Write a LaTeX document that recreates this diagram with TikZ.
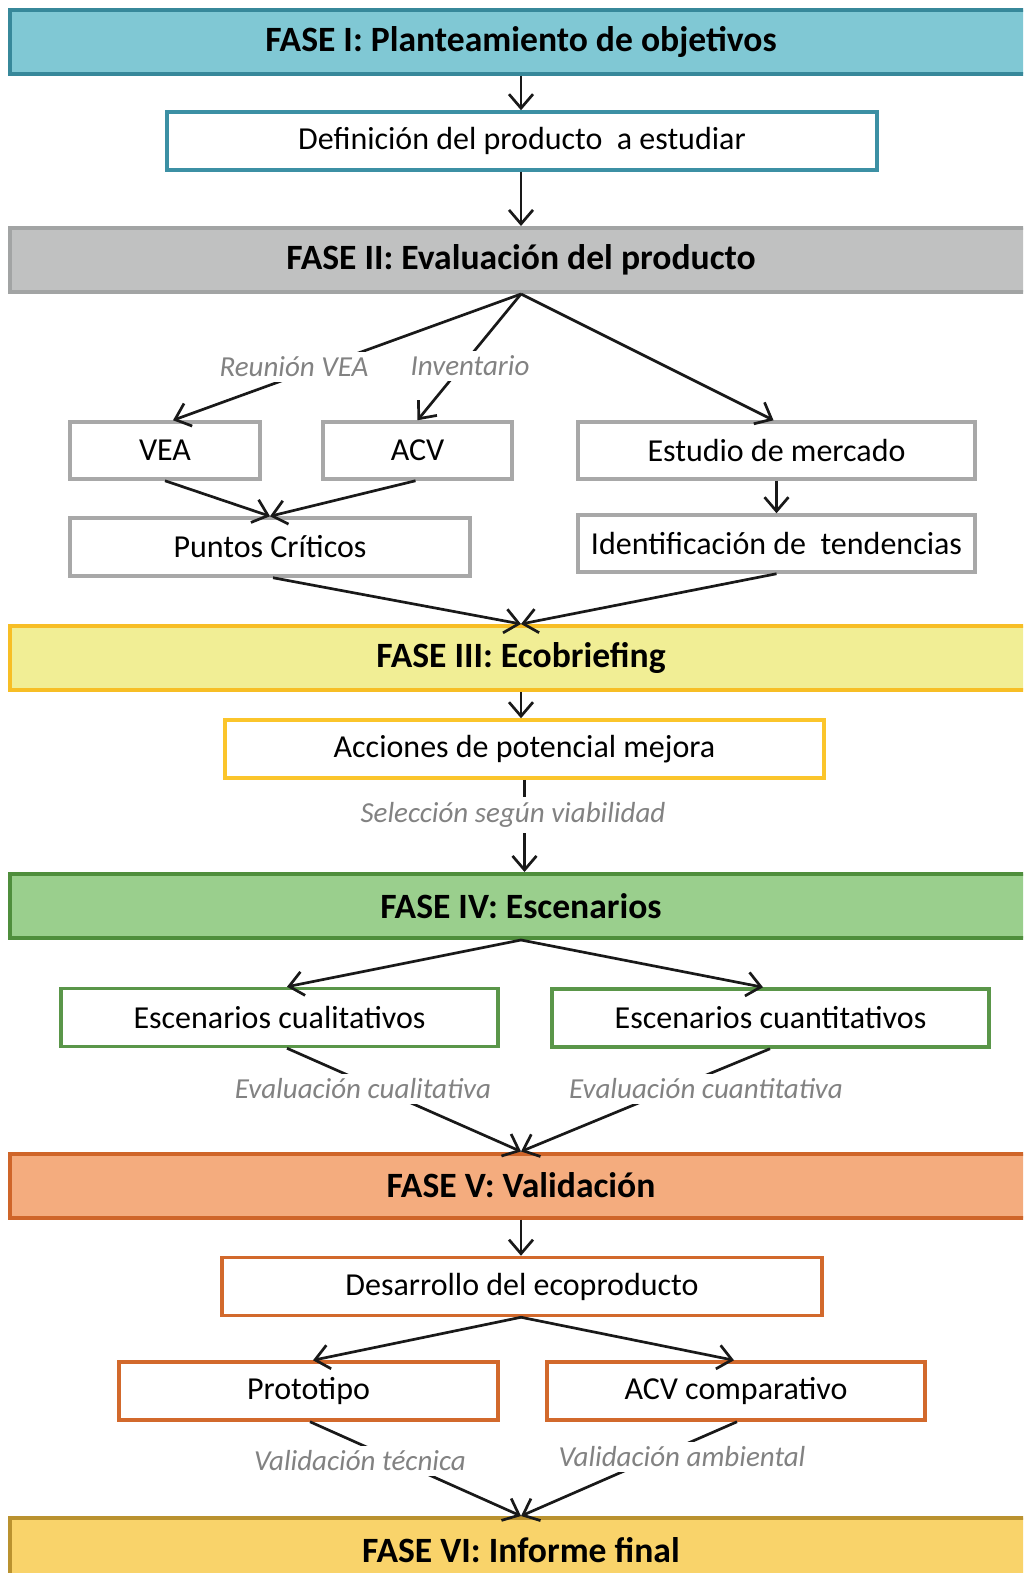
\documentclass[tikz,border=0pt]{standalone}
\usepackage{fontspec}
\setmainfont{Carlito}
\usetikzlibrary{arrows.meta}

\definecolor{fIfill}{HTML}{80C8D4}
\definecolor{fIline}{HTML}{37889A}
\definecolor{fIbox}{HTML}{3C90A4}
\definecolor{fIIfill}{HTML}{C0C1C1}
\definecolor{fIIline}{HTML}{A2A4A4}
\definecolor{fIIbox}{HTML}{A8A8A8}
\definecolor{fIIIfill}{HTML}{F1EE95}
\definecolor{fIIIline}{HTML}{F7BE25}
\definecolor{fIIIbox}{HTML}{FBC52B}
\definecolor{fIVfill}{HTML}{9ACF8D}
\definecolor{fIVline}{HTML}{4F8E3C}
\definecolor{fIVbox}{HTML}{5A9649}
\definecolor{fVfill}{HTML}{F4AC7E}
\definecolor{fVline}{HTML}{CF6529}
\definecolor{fVbox}{HTML}{D2692C}
\definecolor{fVIfill}{HTML}{F9D36A}
\definecolor{fVIline}{HTML}{BA922F}
\definecolor{lblgray}{HTML}{828282}

\begin{document}
\begin{tikzpicture}[x=1pt,y=-1pt,
  phase/.style={draw=#1, line width=4pt, minimum width=1022pt,
    minimum height=64pt, inner sep=0pt,
    font=\fontsize{35.6}{40}\selectfont\bfseries},
  box/.style={draw=#1, fill=white, line width=3.5pt, inner sep=0pt,
    minimum height=58pt, font=\fontsize{32}{36}\selectfont},
  lbl/.style={fill=white, text=lblgray, inner sep=5pt,
    font=\fontsize{29}{32}\selectfont\itshape},
  conn/.style={draw=black!90, line width=2.7pt,
    -{Straight Barb[length=14pt,width=24pt]}}]

\useasboundingbox (0,0) rectangle (1023,1573);
\clip (0,0) rectangle (1023,1573);

% phase bars
\node[phase=fIline, fill=fIfill] (f1) at (521,42) {FASE I: Planteamiento de objetivos};
\node[phase=fIIline, fill=fIIfill] (f2) at (521,260) {FASE II: Evaluación del producto};
\node[phase=fIIIline, fill=fIIIfill] (f3) at (521,658) {FASE III: Ecobriefing};
\node[phase=fIVline, fill=fIVfill] (f4) at (521,906) {FASE IV: Escenarios};
\node[phase=fVline, fill=fVfill] (f5) at (521,1185.5) {FASE V: Validación};
\node[phase=fVIline, fill=fVIfill] (f6) at (521,1550) {FASE VI: Informe final};

% boxes
\node[box=fIbox, minimum width=710pt] (def) at (522,141) {Definición del producto\ \ a estudiar};
\node[box=fIIbox, minimum width=190pt, minimum height=57pt] (vea) at (165,450.5) {VEA};
\node[box=fIIbox, minimum width=189pt, minimum height=57pt] (acv) at (417.5,450.5) {ACV};
\node[box=fIIbox, minimum width=397pt, minimum height=57pt] (est) at (776.5,450.5) {Estudio de mercado};
\node[box=fIIbox, minimum width=400pt] (pc) at (270,547) {Puntos Críticos};
\node[box=fIIbox, minimum width=397pt, minimum height=57pt] (idt) at (776.5,543.5) {Identificación de\ \ tendencias};
\node[box=fIIIbox, minimum width=599pt] (acc) at (524.5,749) {Acciones de potencial mejora};
\node[box=fIVbox, minimum width=437pt] (ecl) at (279.5,1017.5) {Escenarios cualitativos};
\node[box=fIVbox, minimum width=437pt] (ecn) at (770.5,1018) {Escenarios cuantitativos};
\node[box=fVbox, minimum width=600pt] (des) at (522,1286.5) {Desarrollo del ecoproducto};
\node[box=fVbox, minimum width=379pt] (pro) at (308.5,1391) {Prototipo};
\node[box=fVbox, minimum width=378pt] (acvc) at (736,1391) {ACV comparativo};

% connectors
\draw[conn] (f1.south) -- (def.north -| f1.south);
\draw[conn] (def.south -| f1.south) -- (f2.north);
\draw[conn] (f2.south) -- ([xshift=8pt]vea.north);
\draw[conn] (f2.south) -- (acv.north);
\draw[conn] (f2.south) -- ([xshift=-3pt]est.north);
\draw[conn] (vea.south) -- (pc.north);
\draw[conn] ([xshift=-2pt]acv.south) -- (pc.north);
\draw[conn] (est.south) -- (idt.north);
\draw[conn] ([xshift=3pt]pc.south) -- (f3.north);
\draw[conn] (idt.south) -- (f3.north);
\draw[conn] (f3.south) -- (acc.north -| f3.south);
\draw[conn] (acc.south) -- (f4.north -| acc.south);
\draw[conn] (f4.south) -- ([xshift=7.5pt]ecl.north);
\draw[conn] (f4.south) -- ([xshift=-7.5pt]ecn.north);
\draw[conn] ([xshift=7.5pt]ecl.south) -- (f5.north);
\draw[conn] ([xshift=-0.5pt]ecn.south) -- (f5.north);
\draw[conn] (f5.south) -- (des.north -| f5.south);
\draw[conn] (des.south -| f5.south) -- ([xshift=4.5pt]pro.north);
\draw[conn] (des.south -| f5.south) -- ([xshift=-2pt]acvc.north);
\draw[conn] ([xshift=1.5pt]pro.south) -- (f6.north);
\draw[conn] ([xshift=1pt]acvc.south) -- (f6.north);

% labels laid over the connectors
\node[lbl] (lreu) at (294,367) {Reunión VEA};
\node[lbl] (linv) at (470,366) {Inventario};
\node[lbl] (lsel) at (513,815) {Selección según viabilidad};
\node[lbl] (lecl) at (363,1089) {Evaluación cualitativa};
\node[lbl] (lecn) at (706,1089) {Evaluación cuantitativa};
\node[lbl] (lvt) at (360,1461) {Validación técnica};
\node[lbl] (lva) at (682,1457) {Validación ambiental};
\end{tikzpicture}
\end{document}
